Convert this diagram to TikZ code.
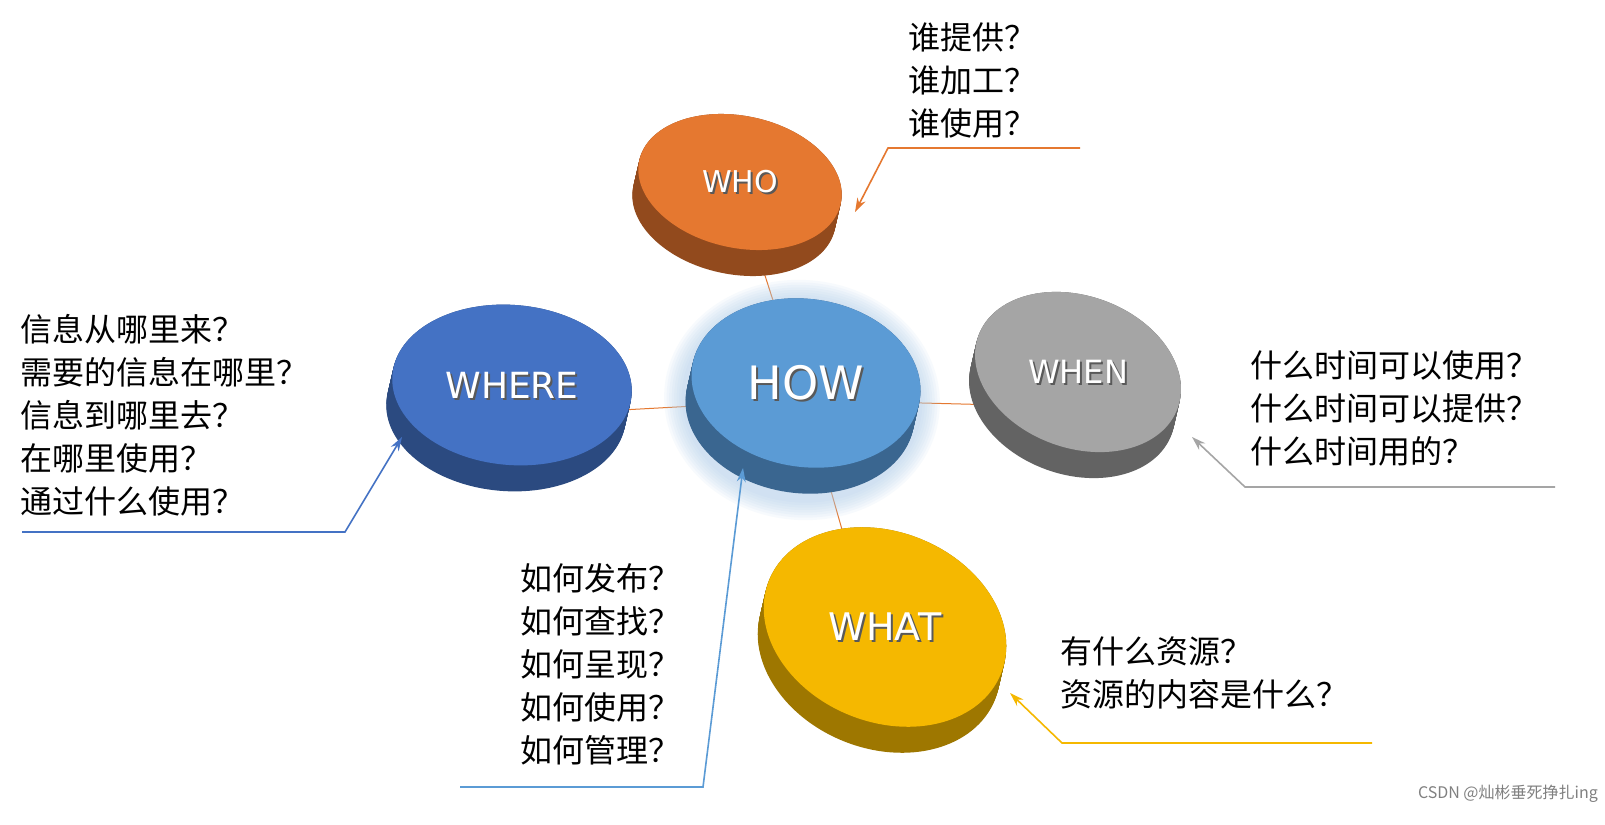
\documentclass[tikz,border=0pt]{standalone}
\usepackage{fontspec}
\setmainfont{Noto Sans CJK SC}
\newfontfamily\lab{DejaVu Sans}
\usetikzlibrary{arrows.meta,calc}
\definecolor{cwho}{HTML}{E57830}\definecolor{cwhod}{HTML}{924A1D}
\definecolor{cwhere}{HTML}{4472C4}\definecolor{cwhered}{HTML}{2B4A80}
\definecolor{chow}{HTML}{5B9BD5}\definecolor{chowd}{HTML}{3A6690}
\definecolor{cwhen}{HTML}{A5A5A5}\definecolor{cwhend}{HTML}{636363}
\definecolor{cwhat}{HTML}{F5B800}\definecolor{cwhatd}{HTML}{9E7700}
\tikzset{x=1pt,y=-1pt,
 txt/.style={anchor=north west,align=left,font=\fontsize{32}{43}\selectfont,inner sep=0pt},
 lbl/.style={text=white},
 call/.style={line width=1.6pt,-{Stealth[length=14pt,width=9pt]}}}
\newcommand{\disk}[9]{% name,x,y,rx,ry,rot,top,side,size
 \foreach \k in {0,1,...,26}{\fill[#8,rotate around={#6:(#2-6*\k/26,#3+\k)}] (#2-6*\k/26,#3+\k) ellipse[x radius=#4,y radius=#5];}
 \fill[#7,rotate around={#6:(#2,#3)}] (#2,#3) ellipse[x radius=#4,y radius=#5];
 \node[lbl,font=\lab\fontsize{#9}{#9}\selectfont,text=gray!70!black] at (#2+2,#3+2) {#1};
 \node[lbl,font=\lab\fontsize{#9}{#9}\selectfont] (#1) at (#2,#3) {#1};}
\begin{document}
\begin{tikzpicture}
\useasboundingbox (0,0) rectangle (1605,824);
\fill[white] (0,0) rectangle (1605,824);
\draw[cwho,line width=1pt] (760,260) -- (805,400) -- (530,415);
\draw[cwho,line width=1pt] (805,400) -- (1000,405);
\draw[cwho,line width=1pt] (805,400) -- (845,540);
\disk{WHO}{740}{182}{103}{66}{-12}{cwho}{cwhod}{30}
\disk{WHERE}{512}{385}{120}{80}{-5}{cwhere}{cwhered}{36}
\foreach \i in {1,...,8}{\fill[chow!50,opacity=0.09,rotate around={-5:(802,400)}] (802,400) ellipse[x radius=118+\i*2.5,y radius=100+\i*2.5];}
\disk{HOW}{806}{383}{115}{84}{-8}{chow}{chowd}{46}
\disk{WHEN}{1078}{372}{106}{76}{-20}{cwhen}{cwhend}{32}
\disk{WHAT}{885}{627}{125}{95}{-22}{cwhat}{cwhatd}{38}
\node[txt] (t1) at (908,22) {谁提供？\\谁加工？\\谁使用？};
\node[txt] (t2) at (20,314) {信息从哪里来？\\需要的信息在哪里？\\信息到哪里去？\\在哪里使用？\\通过什么使用？};
\node[txt] (t3) at (520,563) {如何发布？\\如何查找？\\如何呈现？\\如何使用？\\如何管理？};
\node[txt] (t4) at (1250,350) {什么时间可以使用？\\什么时间可以提供？\\什么时间用的？};
\node[txt] (t5) at (1060,636) {有什么资源？\\资源的内容是什么？};
\coordinate (a1) at (1080,148); \coordinate (b1) at (888,148); \coordinate (c1) at (855,212);
\coordinate (a2) at (22,532); \coordinate (b2) at (345,532); \coordinate (c2) at (402,437);
\coordinate (a3) at (460,787); \coordinate (b3) at (703,787); \coordinate (c3) at (743,468);
\coordinate (a4) at (1555,487); \coordinate (b4) at (1245,487); \coordinate (c4) at (1192,437);
\coordinate (a5) at (1372,743); \coordinate (b5) at (1062,743); \coordinate (c5) at (1010,693);
\draw[call,cwho] (a1) -- (b1) -- (c1);
\draw[call,cwhere] (a2) -- (b2) -- (c2);
\draw[call,chow] (a3) -- (b3) -- (c3);
\draw[call,cwhen] (a4) -- (b4) -- (c4);
\draw[call,cwhat] (a5) -- (b5) -- (c5);
\node[anchor=south east,text=gray,font=\fontsize{16}{16}\selectfont,inner sep=2pt] (wm) at (1600,805) {CSDN @灿彬垂死挣扎ing};
\end{tikzpicture}
\end{document}
